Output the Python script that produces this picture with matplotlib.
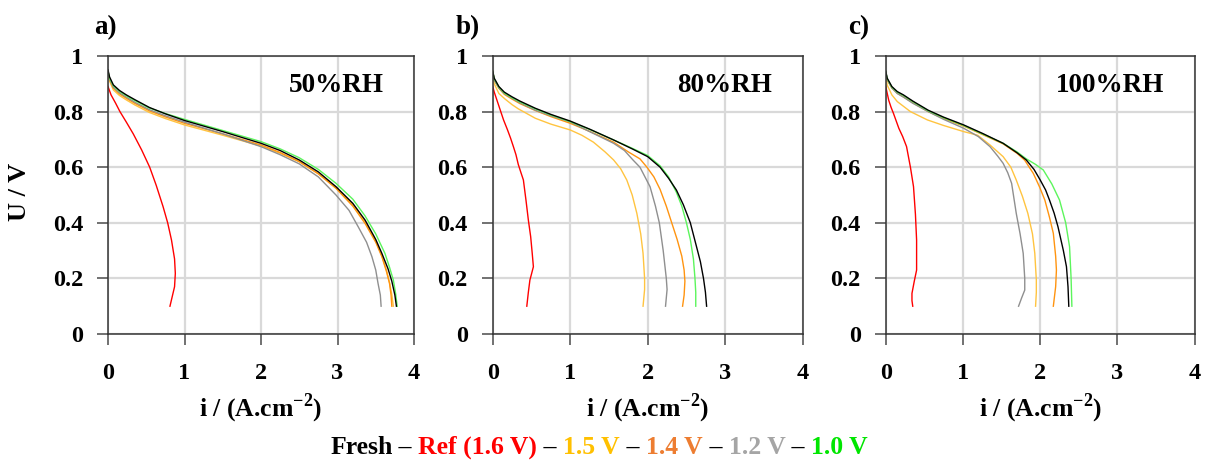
import numpy as np
import matplotlib
matplotlib.use('Agg')
import matplotlib.pyplot as plt
from matplotlib.ticker import FuncFormatter

plt.rcParams['font.family'] = ['Liberation Serif', 'DejaVu Serif']
plt.rcParams['font.weight'] = 'bold'
plt.rcParams['mathtext.fontset'] = 'custom'
plt.rcParams['mathtext.rm'] = 'Liberation Serif:bold'
plt.rcParams['mathtext.bf'] = 'Liberation Serif:bold'

# ---- data: current density i (A/cm2) and cell voltage U (V)
# 50 %RH
a_fresh_i = [0, 0.02, 0.07, 0.15, 0.24, 0.35, 0.54, 0.75, 1.0, 1.5, 2.0, 2.25, 2.5, 2.75, 2.98, 3.2, 3.36, 3.5, 3.58, 3.66, 3.71, 3.75, 3.77]
a_fresh_u = [0.95, 0.925, 0.896, 0.876, 0.86, 0.843, 0.815, 0.792, 0.768, 0.728, 0.686, 0.66, 0.626, 0.583, 0.53, 0.47, 0.41, 0.34, 0.29, 0.235, 0.19, 0.14, 0.10]
a_ref_i = [0, 0.04, 0.1, 0.156, 0.24, 0.33, 0.44, 0.545, 0.63, 0.72, 0.78, 0.83, 0.87, 0.88, 0.87, 0.84, 0.81]
a_ref_u = [0.89, 0.86, 0.83, 0.80, 0.762, 0.72, 0.662, 0.60, 0.535, 0.458, 0.4, 0.338, 0.27, 0.218, 0.17, 0.135, 0.10]
a_15_i = [0, 0.02, 0.07, 0.15, 0.24, 0.35, 0.54, 0.75, 1.0, 1.5, 2.0, 2.25, 2.5, 2.75, 2.98, 3.2, 3.36, 3.5, 3.58, 3.64, 3.68, 3.71, 3.73]
a_15_u = [0.94, 0.91, 0.878, 0.858, 0.842, 0.824, 0.797, 0.775, 0.752, 0.715, 0.676, 0.65, 0.62, 0.577, 0.526, 0.465, 0.405, 0.335, 0.282, 0.23, 0.185, 0.142, 0.10]
a_14_i = [0, 0.02, 0.07, 0.15, 0.24, 0.35, 0.54, 0.75, 1.0, 1.5, 2.0, 2.25, 2.5, 2.75, 2.98, 3.2, 3.36, 3.5, 3.58, 3.64, 3.68, 3.7, 3.71]
a_14_u = [0.945, 0.915, 0.885, 0.864, 0.848, 0.83, 0.803, 0.781, 0.758, 0.72, 0.68, 0.653, 0.62, 0.576, 0.524, 0.46, 0.398, 0.33, 0.278, 0.225, 0.182, 0.14, 0.10]
a_12_i = [0, 0.02, 0.07, 0.15, 0.24, 0.35, 0.54, 0.75, 1.0, 1.5, 2.0, 2.25, 2.5, 2.75, 2.98, 3.15, 3.27, 3.38, 3.45, 3.5, 3.53, 3.56, 3.57]
a_12_u = [0.945, 0.918, 0.888, 0.868, 0.852, 0.834, 0.807, 0.785, 0.762, 0.72, 0.674, 0.645, 0.612, 0.565, 0.50, 0.445, 0.386, 0.33, 0.278, 0.23, 0.182, 0.14, 0.10]
a_10_i = [0, 0.02, 0.07, 0.15, 0.24, 0.35, 0.54, 0.75, 1.0, 1.5, 2.0, 2.25, 2.5, 2.75, 2.98, 3.2, 3.36, 3.5, 3.62, 3.68, 3.73, 3.76, 3.78]
a_10_u = [0.945, 0.92, 0.893, 0.873, 0.857, 0.84, 0.813, 0.793, 0.772, 0.732, 0.692, 0.666, 0.634, 0.592, 0.542, 0.485, 0.425, 0.36, 0.29, 0.24, 0.194, 0.145, 0.10]

# 80 %RH
b_fresh_i = [0, 0.02, 0.08, 0.15, 0.25, 0.35, 0.55, 0.75, 1.0, 1.25, 1.56, 1.8, 2.0, 2.16, 2.27, 2.37, 2.46, 2.55, 2.63, 2.68, 2.72, 2.745, 2.76]
b_fresh_u = [0.945, 0.92, 0.89, 0.87, 0.853, 0.838, 0.812, 0.79, 0.766, 0.737, 0.698, 0.666, 0.638, 0.6, 0.56, 0.518, 0.465, 0.4, 0.314, 0.26, 0.2, 0.15, 0.10]
b_ref_i = [0, 0.02, 0.05, 0.08, 0.11, 0.14, 0.19, 0.23, 0.267, 0.3, 0.33, 0.365, 0.396, 0.43, 0.46, 0.49, 0.51, 0.525, 0.5, 0.48, 0.46, 0.44]
b_ref_u = [0.89, 0.87, 0.845, 0.82, 0.795, 0.77, 0.735, 0.705, 0.674, 0.645, 0.61, 0.58, 0.554, 0.48, 0.41, 0.35, 0.29, 0.242, 0.215, 0.194, 0.15, 0.10]
b_15_i = [0, 0.02, 0.08, 0.16, 0.25, 0.33, 0.55, 0.75, 1.0, 1.15, 1.3, 1.45, 1.56, 1.65, 1.73, 1.8, 1.86, 1.91, 1.94, 1.96, 1.96, 1.95, 1.94]
b_15_u = [0.935, 0.9, 0.865, 0.845, 0.825, 0.81, 0.776, 0.755, 0.734, 0.715, 0.69, 0.655, 0.626, 0.595, 0.554, 0.5, 0.434, 0.36, 0.29, 0.2, 0.16, 0.13, 0.10]
b_14_i = [0, 0.02, 0.08, 0.15, 0.25, 0.35, 0.55, 0.75, 1.0, 1.25, 1.56, 1.75, 1.9, 1.99, 2.08, 2.16, 2.24, 2.31, 2.38, 2.44, 2.47, 2.48, 2.47, 2.45]
b_14_u = [0.945, 0.913, 0.884, 0.862, 0.845, 0.829, 0.804, 0.782, 0.758, 0.729, 0.69, 0.655, 0.63, 0.60, 0.565, 0.52, 0.46, 0.4, 0.34, 0.28, 0.23, 0.19, 0.14, 0.10]
b_12_i = [0, 0.02, 0.08, 0.15, 0.25, 0.35, 0.55, 0.75, 0.99, 1.25, 1.56, 1.7, 1.81, 1.9, 2.03, 2.1, 2.15, 2.2, 2.24, 2.25, 2.24, 2.23]
b_12_u = [0.945, 0.913, 0.885, 0.865, 0.848, 0.832, 0.805, 0.785, 0.764, 0.728, 0.686, 0.66, 0.626, 0.60, 0.53, 0.46, 0.4, 0.3, 0.2, 0.16, 0.13, 0.10]
b_10_i = [0, 0.02, 0.08, 0.15, 0.25, 0.35, 0.55, 0.75, 1.0, 1.25, 1.56, 1.8, 2.0, 2.16, 2.27, 2.37, 2.44, 2.5, 2.55, 2.59, 2.61, 2.62, 2.62]
b_10_u = [0.945, 0.918, 0.888, 0.867, 0.85, 0.835, 0.81, 0.788, 0.764, 0.736, 0.698, 0.668, 0.642, 0.605, 0.565, 0.51, 0.46, 0.4, 0.34, 0.27, 0.2, 0.15, 0.10]

# 100 %RH
c_fresh_i = [0, 0.02, 0.08, 0.15, 0.23, 0.35, 0.55, 0.75, 1.01, 1.25, 1.52, 1.7, 1.82, 1.92, 2.0, 2.07, 2.12, 2.18, 2.23, 2.3, 2.34, 2.36, 2.37]
c_fresh_u = [0.945, 0.92, 0.89, 0.872, 0.86, 0.838, 0.805, 0.78, 0.752, 0.722, 0.686, 0.652, 0.626, 0.592, 0.554, 0.518, 0.482, 0.435, 0.386, 0.3, 0.242, 0.17, 0.10]
c_ref_i = [0, 0.02, 0.04, 0.07, 0.1, 0.17, 0.22, 0.27, 0.32, 0.36, 0.385, 0.4, 0.4, 0.4, 0.37, 0.34, 0.34, 0.35]
c_ref_u = [0.89, 0.865, 0.84, 0.815, 0.794, 0.74, 0.71, 0.674, 0.6, 0.53, 0.43, 0.338, 0.28, 0.23, 0.19, 0.146, 0.12, 0.10]
c_15_i = [0, 0.02, 0.08, 0.15, 0.32, 0.54, 0.75, 1.01, 1.19, 1.35, 1.52, 1.62, 1.69, 1.77, 1.84, 1.9, 1.93, 1.95, 1.95, 1.94]
c_15_u = [0.926, 0.895, 0.86, 0.836, 0.8, 0.77, 0.75, 0.728, 0.715, 0.68, 0.638, 0.6, 0.554, 0.495, 0.434, 0.36, 0.29, 0.194, 0.15, 0.10]
c_14_i = [0, 0.02, 0.08, 0.15, 0.23, 0.35, 0.55, 0.75, 1.01, 1.25, 1.52, 1.7, 1.8, 1.91, 1.99, 2.06, 2.12, 2.17, 2.2, 2.21, 2.2, 2.17]
c_14_u = [0.94, 0.913, 0.885, 0.866, 0.853, 0.832, 0.8, 0.775, 0.748, 0.718, 0.684, 0.65, 0.625, 0.578, 0.53, 0.482, 0.42, 0.362, 0.28, 0.23, 0.17, 0.10]
c_12_i = [0, 0.02, 0.08, 0.15, 0.23, 0.35, 0.55, 0.75, 1.01, 1.2, 1.35, 1.45, 1.52, 1.58, 1.63, 1.69, 1.74, 1.78, 1.8, 1.8, 1.76, 1.72]
c_12_u = [0.945, 0.915, 0.885, 0.865, 0.852, 0.83, 0.8, 0.772, 0.74, 0.71, 0.674, 0.64, 0.614, 0.58, 0.542, 0.434, 0.36, 0.29, 0.2, 0.158, 0.13, 0.10]
c_10_i = [0, 0.02, 0.08, 0.15, 0.23, 0.35, 0.55, 0.75, 1.01, 1.25, 1.52, 1.7, 1.82, 1.94, 2.04, 2.15, 2.25, 2.33, 2.38, 2.4, 2.41]
c_10_u = [0.945, 0.918, 0.888, 0.87, 0.858, 0.836, 0.803, 0.778, 0.75, 0.72, 0.686, 0.655, 0.63, 0.61, 0.59, 0.54, 0.482, 0.4, 0.314, 0.2, 0.10]

panel_letters = ['a)', 'b)', 'c)']
rh_labels = ['50%RH', '80%RH', '100%RH']
legend_names = ['Fresh', 'Ref (1.6 V)', '1.5 V', '1.4 V', '1.2 V', '1.0 V']

line_colors = {'ref': '#FF0000', '15': '#FFC440', '14': '#FF9410', '12': '#8F8F8F', '10': '#5CF55C', 'fresh': '#000000'}
legend_colors = ['#000000', '#FF0000', '#FFC000', '#ED7D31', '#A5A5A5', '#00E600']

panels = [
    {'ref': (a_ref_i, a_ref_u), '15': (a_15_i, a_15_u), '14': (a_14_i, a_14_u),
     '12': (a_12_i, a_12_u), '10': (a_10_i, a_10_u), 'fresh': (a_fresh_i, a_fresh_u)},
    {'ref': (b_ref_i, b_ref_u), '15': (b_15_i, b_15_u), '14': (b_14_i, b_14_u),
     '12': (b_12_i, b_12_u), '10': (b_10_i, b_10_u), 'fresh': (b_fresh_i, b_fresh_u)},
    {'ref': (c_ref_i, c_ref_u), '15': (c_15_i, c_15_u), '14': (c_14_i, c_14_u),
     '12': (c_12_i, c_12_u), '10': (c_10_i, c_10_u), 'fresh': (c_fresh_i, c_fresh_u)},
]

W, H = 1208, 466
fig = plt.figure(figsize=(W / 100, H / 100), dpi=100)

lefts = [108, 492.7, 885.7]
widths = [306, 310, 309]
bottom_px, top_px = 334, 56
letter_x = [94, 456, 848]

fs = 17.5
for k, data in enumerate(panels):
    ax = fig.add_axes([lefts[k] / W, 1 - bottom_px / H, widths[k] / W, (bottom_px - top_px) / H])
    for key in ['ref', '15', '14', '12', '10', 'fresh']:
        xs, ys = data[key]
        ax.plot(xs, ys, color=line_colors[key], lw=1.0)
    ax.set_xlim(0, 4)
    ax.set_ylim(0, 1)
    ax.set_xticks(np.arange(0, 5, 1))
    ax.set_yticks(np.arange(0, 1.01, 0.2))
    ax.yaxis.set_major_formatter(FuncFormatter(lambda v, p: f'{v:g}'))
    ax.grid(True, color='#D9D9D9', lw=1.6)
    ax.set_axisbelow(True)
    ax.tick_params(direction='out', length=8, width=1.2, color='#595959', labelsize=fs)
    ax.tick_params(axis='y', pad=10)
    ax.tick_params(axis='x', pad=13)
    for lab in ax.get_xticklabels() + ax.get_yticklabels():
        lab.set_fontweight('bold')
    for s in ax.spines.values():
        s.set_color('#333333')
        s.set_linewidth(1.1)
    ax.text(0.9, 0.895, rh_labels[k], transform=ax.transAxes, ha='right', va='center',
            fontsize=19.5, fontweight='bold')
    fig.text(letter_x[k] / W, 1 - 28 / H, panel_letters[k], ha='left', va='center',
             fontsize=19.5, fontweight='bold')
    fig.text((lefts[k] + widths[k] / 2) / W, 1 - 408 / H, r'i / (A.cm$^{\mathbf{-2}}$)',
             ha='center', va='center', fontsize=18.5, fontweight='bold')

fig.text(20 / W, 1 - 192 / H, 'U / V', rotation=90, ha='center', va='center',
         fontsize=19, fontweight='bold')

# multicoloured legend line at the bottom
pieces = []
for n, (name, col) in enumerate(zip(legend_names, legend_colors)):
    if n > 0:
        pieces.append((' \u2013 ', '#000000'))
    pieces.append((name, col))

renderer = fig.canvas.get_renderer()
texts = []
x = 0
for txt, col in pieces:
    t = fig.text(x / W, 1 - 447 / H, txt, color=col, ha='left', va='center',
                 fontsize=18.5, fontweight='bold')
    x += t.get_window_extent(renderer).width
    texts.append(t)
x = 599 - x / 2
for t in texts:
    t.set_x(x / W)
    x += t.get_window_extent(renderer).width

fig.savefig('out.png', dpi=100)
